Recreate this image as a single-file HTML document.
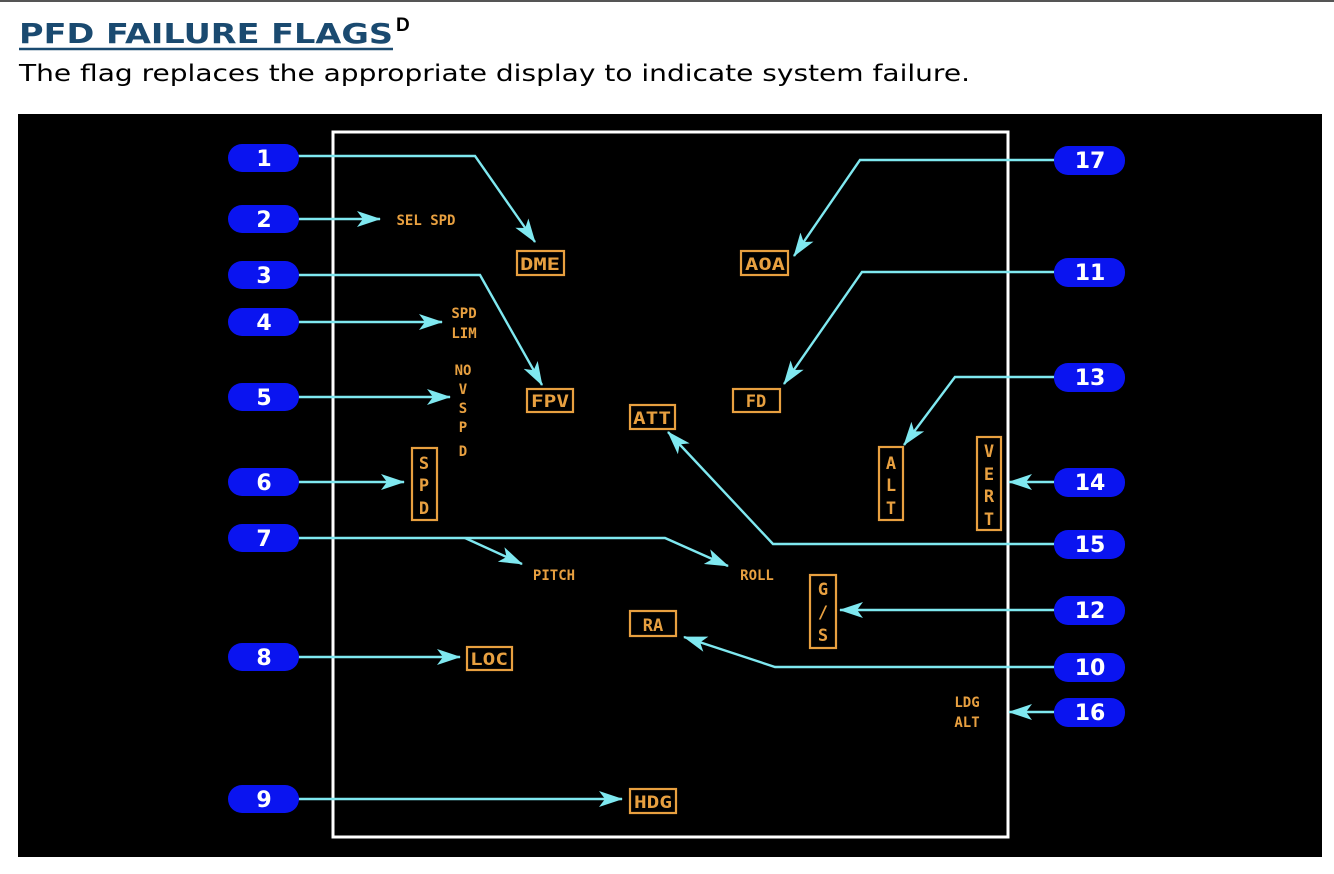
<!DOCTYPE html>
<html><head><meta charset="utf-8"><style>
html,body{margin:0;padding:0;background:#fff;width:1334px;height:874px;overflow:hidden}
svg{display:block}
</style></head><body>
<svg width="1334" height="874" viewBox="0 0 1334 874" xmlns="http://www.w3.org/2000/svg">
<defs>
<marker id="a" viewBox="0 0 24 16" refX="23" refY="8" markerWidth="24" markerHeight="16" markerUnits="userSpaceOnUse" orient="auto">
<path d="M0,0 L24,8 L0,16 L6,8 Z" fill="#7fe8f0"/>
</marker>
</defs>
<line x1="0" y1="1" x2="1334" y2="1" stroke="#555" stroke-width="2"/>
<text x="19" y="43" font-family="DejaVu Sans, sans-serif" font-weight="bold" font-size="28" fill="#1a4a70" textLength="374" lengthAdjust="spacingAndGlyphs">PFD FAILURE FLAGS</text>
<text x="396" y="31" font-family="Liberation Sans, sans-serif" font-weight="bold" font-size="19" fill="#000">D</text>
<line x1="19" y1="49" x2="393" y2="49" stroke="#1a4a70" stroke-width="2.5"/>
<text x="19" y="81" font-family="DejaVu Sans, sans-serif" font-size="23" fill="#000" textLength="951" lengthAdjust="spacingAndGlyphs">The flag replaces the appropriate display to indicate system failure.</text>
<rect x="18" y="114" width="1304" height="743" fill="#000"/>
<rect x="333" y="132" width="675" height="705" fill="none" stroke="#fff" stroke-width="3"/>
<g fill="none" stroke="#7fe8f0" stroke-width="2.4">
<polyline points="298,156 475,156 535,242" marker-end="url(#a)"/>
<polyline points="298,219 380,219" marker-end="url(#a)"/>
<polyline points="298,275 480,275 542,385" marker-end="url(#a)"/>
<polyline points="298,322 442,322" marker-end="url(#a)"/>
<polyline points="298,397 450,397" marker-end="url(#a)"/>
<polyline points="298,482 404,482" marker-end="url(#a)"/>
<polyline points="298,538 665,538 728,566" marker-end="url(#a)"/>
<polyline points="465,538 522,564" marker-end="url(#a)"/>
<polyline points="298,657 460,657" marker-end="url(#a)"/>
<polyline points="298,799 622,799" marker-end="url(#a)"/>
<polyline points="1055,160 860,160 794,256" marker-end="url(#a)"/>
<polyline points="1055,272 862,272 784,384" marker-end="url(#a)"/>
<polyline points="1055,377 955,377 904,445" marker-end="url(#a)"/>
<polyline points="1055,482 1009,482" marker-end="url(#a)"/>
<polyline points="1055,544 773,544 668,432" marker-end="url(#a)"/>
<polyline points="1055,610 840,610" marker-end="url(#a)"/>
<polyline points="1055,667 775,667 684,637" marker-end="url(#a)"/>
<polyline points="1055,712 1009,712" marker-end="url(#a)"/>
</g>
<g fill="#0a14f0">
<rect x="228" y="144" width="71" height="28" rx="14"/>
<rect x="228" y="205" width="71" height="28" rx="14"/>
<rect x="228" y="261" width="71" height="28" rx="14"/>
<rect x="228" y="308" width="71" height="28" rx="14"/>
<rect x="228" y="383" width="71" height="28" rx="14"/>
<rect x="228" y="468" width="71" height="28" rx="14"/>
<rect x="228" y="524" width="71" height="28" rx="14"/>
<rect x="228" y="643" width="71" height="28" rx="14"/>
<rect x="228" y="785" width="71" height="28" rx="14"/>
<rect x="1054" y="146" width="71" height="29" rx="14"/>
<rect x="1054" y="258" width="71" height="29" rx="14"/>
<rect x="1054" y="363" width="71" height="29" rx="14"/>
<rect x="1054" y="468" width="71" height="29" rx="14"/>
<rect x="1054" y="530" width="71" height="29" rx="14"/>
<rect x="1054" y="596" width="71" height="29" rx="14"/>
<rect x="1054" y="653" width="71" height="29" rx="14"/>
<rect x="1054" y="698" width="71" height="29" rx="14"/>
</g>
<g fill="#fff" font-family="DejaVu Sans, sans-serif" font-weight="bold" font-size="22" text-anchor="middle">
<text x="264" y="166">1</text><text x="264" y="227">2</text><text x="264" y="283">3</text>
<text x="264" y="330">4</text><text x="264" y="405">5</text><text x="264" y="490">6</text>
<text x="264" y="546">7</text><text x="264" y="665">8</text><text x="264" y="807">9</text>
<text x="1090" y="168">17</text><text x="1090" y="280">11</text><text x="1090" y="385">13</text>
<text x="1090" y="490">14</text><text x="1090" y="552">15</text><text x="1090" y="618">12</text>
<text x="1090" y="675">10</text><text x="1090" y="720">16</text>
</g>
<g fill="none" stroke="#e8a040" stroke-width="2.2">
<rect x="517" y="251" width="47" height="24"/>
<rect x="741" y="251" width="47" height="24"/>
<rect x="527" y="389" width="46" height="23"/>
<rect x="733" y="389" width="47" height="23"/>
<rect x="630" y="405" width="45" height="24"/>
<rect x="412" y="448" width="25" height="72"/>
<rect x="879" y="447" width="24" height="73"/>
<rect x="977" y="437" width="24" height="93"/>
<rect x="810" y="575" width="26" height="73"/>
<rect x="630" y="611" width="46" height="25"/>
<rect x="467" y="647" width="45" height="23"/>
<rect x="630" y="789" width="46" height="24"/>
</g>
<g fill="#e8a040" font-family="DejaVu Sans Mono, monospace" font-weight="bold" font-size="17" text-anchor="middle">
<text x="540" y="270" textLength="40" lengthAdjust="spacingAndGlyphs">DME</text><text x="765" y="270" textLength="40" lengthAdjust="spacingAndGlyphs">AOA</text>
<text x="550" y="407" textLength="38" lengthAdjust="spacingAndGlyphs">FPV</text><text x="756" y="407">FD</text><text x="652" y="424" textLength="38" lengthAdjust="spacingAndGlyphs">ATT</text>
<text x="653" y="631">RA</text><text x="489" y="665" textLength="38" lengthAdjust="spacingAndGlyphs">LOC</text><text x="653" y="808" textLength="38" lengthAdjust="spacingAndGlyphs">HDG</text>
<text x="424" y="469">S</text><text x="424" y="491">P</text><text x="424" y="514">D</text>
<text x="891" y="469">A</text><text x="891" y="491">L</text><text x="891" y="514">T</text>
<text x="989" y="457">V</text><text x="989" y="480">E</text><text x="989" y="502">R</text><text x="989" y="525">T</text>
<text x="823" y="595">G</text><text x="823" y="618">/</text><text x="823" y="641">S</text>
</g>
<g fill="#e8a040" font-family="DejaVu Sans Mono, monospace" font-weight="bold" font-size="14" text-anchor="middle">
<text x="426" y="225">SEL SPD</text>
<text x="464" y="318">SPD</text><text x="464" y="338">LIM</text>
<text x="463" y="375">NO</text><text x="463" y="394">V</text><text x="463" y="413">S</text><text x="463" y="432">P</text><text x="463" y="456">D</text>
<text x="554" y="580">PITCH</text><text x="757" y="580">ROLL</text>
<text x="967" y="707">LDG</text><text x="967" y="727">ALT</text>
</g>
</svg>
</body></html>
